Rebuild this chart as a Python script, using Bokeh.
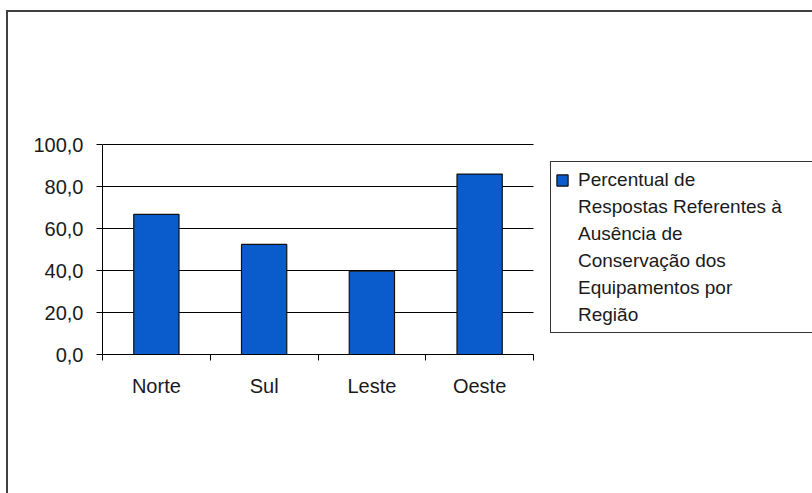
from bokeh.plotting import figure
from bokeh.models import (Range1d, FixedTicker, LinearAxis, Legend,
                          LegendItem, InlineStyleSheet)
from bokeh.embed import file_html
from bokeh.resources import INLINE

categories = ["Norte", "Sul", "Leste", "Oeste"]
values = [66.7, 52.4, 39.7, 85.9]
y_ticks = [0, 20, 40, 60, 80, 100]
y_labels = ["0,0", "20,0", "40,0", "60,0", "80,0", "100,0"]
legend_lines = ["Percentual de", "Respostas Referentes à", "Ausência de",
                "Conservação dos", "Equipamentos por", "Região"]

FONT = "Liberation Sans"
FS_AXIS = "20px"
FS_LEG = "19px"
BAR = "#0A5CCC"
TXT = "#1a1a1a"

W, H = 812, 493
LEFT, PLOT_W = 102, 431          # pixel extent of the category area
TOP, BOTTOM = 143, 139
n = len(categories)
x_end = n * (W - LEFT) / PLOT_W   # frame also hosts the legend on the right
y_end = 100 * (H - TOP - BOTTOM) / 210

p = figure(width=W, height=H, output_backend="svg", toolbar_location=None,
           x_range=Range1d(0, x_end), y_range=Range1d(0, y_end),
           x_axis_type=None, y_axis_type=None,
           min_border_left=LEFT, min_border_right=0,
           min_border_top=TOP, min_border_bottom=BOTTOM)
p.outline_line_color = None
p.background_fill_color = "white"
p.border_fill_color = "white"

# outer frame (left/top border of the chart area)
p.stylesheets = [InlineStyleSheet(css=""":host { position: relative; }
:host::after { content: ""; position: absolute; left: 6px; top: 10px;
  right: 0; bottom: 0; border-left: 2px solid #404040;
  border-top: 2px solid #404040; pointer-events: none; z-index: 10; }""")]

xs = [i + 0.5 for i in range(n)]

# horizontal grid lines across the category area only
p.segment(x0=[0] * len(y_ticks), x1=[n] * len(y_ticks), y0=y_ticks, y1=y_ticks,
          line_color="black", line_width=1)

bars = p.vbar(x=xs, top=values, width=0.42, bottom=0, fill_color=BAR,
              line_color="#111111", line_width=1.2)
dummy = p.vbar(x=[], top=[], width=0.1, fill_alpha=0, line_alpha=0)

# y axis
ya = LinearAxis(ticker=FixedTicker(ticks=y_ticks), bounds=(0, 100))
ya.major_label_overrides = {t: l for t, l in zip(y_ticks, y_labels)}
ya.axis_line_color = "black"
ya.major_tick_line_color = "black"
ya.major_tick_out = 6
ya.major_tick_in = 0
ya.minor_tick_line_color = None
ya.major_label_standoff = 13
ya.major_label_text_font = FONT
ya.major_label_text_font_size = FS_AXIS
ya.major_label_text_color = TXT
p.add_layout(ya, "left")

# x axis
xa = LinearAxis(ticker=FixedTicker(ticks=xs, minor_ticks=list(range(n + 1))),
                bounds=(0, n))
xa.major_label_overrides = {x: c for x, c in zip(xs, categories)}
xa.axis_line_color = "black"
xa.major_tick_line_color = None
xa.minor_tick_line_color = "black"
xa.minor_tick_out = 6
xa.minor_tick_in = 0
xa.major_label_standoff = 14
xa.major_label_text_font = FONT
xa.major_label_text_font_size = FS_AXIS
xa.major_label_text_color = TXT
p.add_layout(xa, "below")

items = [LegendItem(label=legend_lines[0], renderers=[bars])]
items += [LegendItem(label=t, renderers=[dummy]) for t in legend_lines[1:]]
legend = Legend(items=items, location=(448, 21), margin=0, padding=4,
                spacing=0, label_height=27, glyph_height=14, glyph_width=14,
                label_standoff=9, label_width=300,
                label_text_font=FONT, label_text_font_size=FS_LEG,
                label_text_color=TXT, border_line_color="#333333",
                border_line_alpha=1.0, border_line_width=1.5,
                background_fill_color="white", background_fill_alpha=1.0)
p.add_layout(legend, "center")

open("out.html", "w").write(file_html(p, INLINE))
